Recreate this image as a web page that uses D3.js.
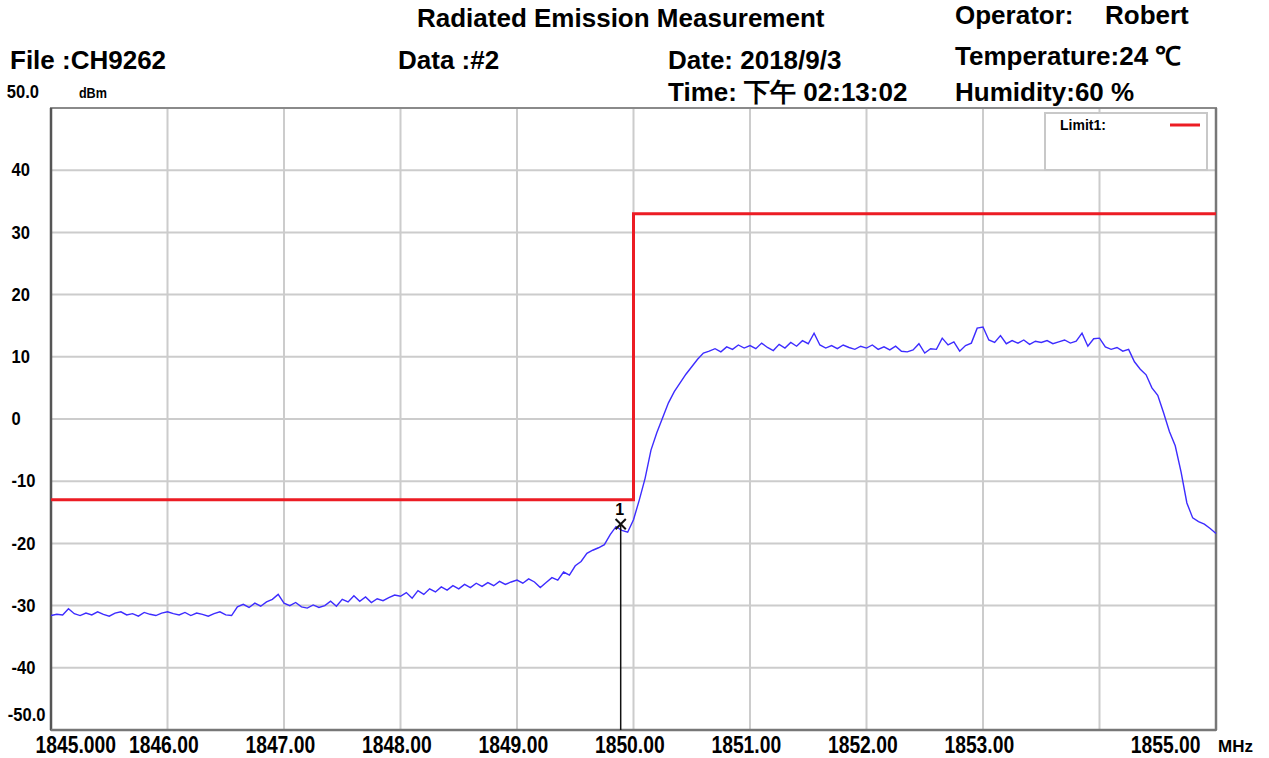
<!DOCTYPE html>
<html>
<head>
<meta charset="utf-8">
<script src="https://cdn.jsdelivr.net/npm/d3@7"></script>
<style>
  body { margin: 0; background: #fff; }
  text { font-family: "Liberation Sans", Arial, sans-serif; font-weight: bold; fill: #000; }
</style>
</head>
<body>
<svg id="chart"></svg>
<script>
// trace: 1845.00 .. 1855.00 MHz, 0.05 MHz per point
const freqStart = 1845, freqStep = 0.05;
const level = [
  -31.6, -31.4, -31.5, -30.5, -31.3, -31.6, -31.2, -31.5, -31.0, -31.4, -31.7, -31.2, -31.0, -31.5, -31.3, -31.7, -31.1, -31.4, -31.6, -31.2,
  -31.0, -31.3, -31.5, -31.1, -31.6, -31.2, -31.4, -31.7, -31.3, -31.0, -31.5, -31.6, -30.2, -29.8, -30.3, -29.6, -30.1, -29.4, -29.0, -28.2,
  -29.6, -30.0, -29.5, -30.2, -30.4, -29.9, -30.3, -30.0, -29.3, -30.1, -29.0, -29.4, -28.4, -29.3, -28.6, -29.5, -28.9, -29.2, -28.7, -28.3,
  -28.5, -27.9, -28.8, -27.6, -28.2, -27.3, -27.8, -27.0, -27.5, -26.8, -27.3, -26.6, -27.1, -26.4, -26.9, -26.3, -26.8, -26.1, -26.6, -26.2,
  -25.9, -26.4, -25.7, -26.2, -27.1, -26.3, -25.5, -25.9, -24.6, -25.1, -23.6, -22.9, -21.6, -21.1, -20.7, -20.2, -18.6, -17.3, -17.9, -18.2,
  -16.2, -13.0, -9.5, -5.0, -2.2, 0.2, 2.6, 4.4, 5.8, 7.2, 8.4, 9.6, 10.6, 10.9, 11.3, 10.8, 11.6, 11.2, 11.9, 11.4,
  11.8, 11.3, 12.2, 11.5, 11.0, 12.0, 11.4, 12.3, 11.7, 12.6, 12.1, 13.8, 11.9, 11.4, 11.8, 11.3, 11.9, 11.5, 11.2, 11.7,
  11.4, 11.9, 11.2, 11.6, 11.1, 11.7, 10.9, 10.8, 11.1, 12.1, 10.6, 11.3, 11.2, 13.0, 11.9, 12.4, 10.9, 11.8, 12.2, 14.6,
  14.8, 12.7, 12.3, 13.4, 12.1, 12.6, 12.2, 12.7, 12.0, 12.5, 12.3, 12.6, 12.1, 12.4, 12.7, 12.2, 12.5, 13.8, 11.7, 12.9,
  13.0, 11.6, 11.2, 11.5, 10.9, 11.2, 9.2, 8.0, 7.1, 5.0, 3.8, 1.0, -2.0, -4.3, -8.5, -13.5, -15.9, -16.5, -16.9, -17.6,
  -18.4
];

const limitFreq = [1845, 1850, 1850, 1855];
const limitLevel = [-13, -13, 33, 33];

const markerFreq = 1849.89, markerLevel = -16.9, markerName = '1';

const xTicks = [1845, 1846, 1847, 1848, 1849, 1850, 1851, 1852, 1853, 1854, 1855];
const xTickLabels = ['1845.000', '1846.00', '1847.00', '1848.00', '1849.00', '1850.00', '1851.00', '1852.00', '1853.00', '', '1855.00'];
const yTicks = [50, 40, 30, 20, 10, 0, -10, -20, -30, -40, -50];
const yTickLabels = ['50.0', '40', '30', '20', '10', '0', '-10', '-20', '-30', '-40', '-50.0'];

const title = 'Radiated Emission Measurement';
const infoLeft = ['File :CH9262', 'Data :#2'];
const infoMid = ['Date: 2018/9/3', 'Time: 下午 02:13:02'];
const operator = ['Operator:', 'Robert'];
const infoRight = ['Temperature:24 ℃', 'Humidity:60 %'];
const legendName = 'Limit1:';

const svg = d3.select('#chart')
  .attr('width', 1269)
  .attr('height', 758);

const margin = {top: 108, right: 53, bottom: 28, left: 51},
    width = 1269 - margin.left - margin.right,
    height = 758 - margin.top - margin.bottom;

const x = d3.scaleLinear().domain([1845, 1855]).range([0, width]);
const y = d3.scaleLinear().domain([-50, 50]).range([height, 0]);

const g = svg.append('g')
  .attr('transform', 'translate(' + margin.left + ',' + margin.top + ')');

// grid
g.selectAll('.vgrid')
  .data(xTicks.slice(1, -1))
  .enter().append('line')
  .attr('class', 'vgrid')
  .attr('x1', d => x(d)).attr('x2', d => x(d))
  .attr('y1', 0).attr('y2', height)
  .attr('stroke', '#cccccc').attr('stroke-width', 2);

g.selectAll('.hgrid')
  .data(yTicks.slice(1, -1))
  .enter().append('line')
  .attr('class', 'hgrid')
  .attr('x1', 0).attr('x2', width)
  .attr('y1', d => y(d)).attr('y2', d => y(d))
  .attr('stroke', '#cccccc').attr('stroke-width', 2);

// frame
g.append('rect')
  .attr('width', width).attr('height', height)
  .attr('fill', 'none').attr('stroke', '#8a8a8a').attr('stroke-width', 2);
g.append('line')
  .attr('x1', 0).attr('x2', 0).attr('y1', 0).attr('y2', height)
  .attr('stroke', '#555').attr('stroke-width', 2.5);
g.append('line')
  .attr('x1', 0).attr('x2', width).attr('y1', height).attr('y2', height)
  .attr('stroke', '#777').attr('stroke-width', 2.5);
g.append('line')
  .attr('x1', width).attr('x2', width).attr('y1', 0).attr('y2', height)
  .attr('stroke', '#777').attr('stroke-width', 2.5);

// y axis labels
const yAxis = g.append('g')
  .call(d3.axisLeft(y).tickValues(yTicks).tickFormat((d, i) => yTickLabels[i]).tickSize(0));
yAxis.select('.domain').remove();
yAxis.selectAll('text')
  .attr('text-anchor', 'start')
  .attr('x', -43)
  .attr('transform', 'scale(0.92,1)')
  .style('font-size', '18px')
  .style('font-family', null);
yAxis.selectAll('.tick').filter(d => d === 50).select('text').attr('y', -16).attr('x', -48);
yAxis.selectAll('.tick').filter(d => d === -50).select('text').attr('y', -15).attr('x', -47);

g.append('text')
  .attr('x', 31).attr('y', -10)
  .attr('transform', 'scale(0.9,1)')
  .style('font-size', '14px')
  .text('dBm');

// x axis labels
const xAxis = g.append('g')
  .attr('transform', 'translate(0,' + height + ')')
  .call(d3.axisBottom(x).tickValues(xTicks).tickFormat((d, i) => xTickLabels[i]).tickSize(0).tickPadding(7));
xAxis.select('.domain').remove();
xAxis.selectAll('text')
  .attr('dx', -5)
  .attr('transform', 'scale(0.84,1)')
  .style('font-size', '23px')
  .style('font-family', null);
xAxis.selectAll('.tick').filter(d => d === 1845).select('text').attr('text-anchor', 'start').attr('dx', -19);
xAxis.selectAll('.tick').filter(d => d === 1855).select('text').attr('text-anchor', 'end').attr('dx', -19);

g.append('text')
  .attr('x', width + 2).attr('y', height + 22)
  .style('font-size', '17px')
  .text('MHz');

// limit line
const limitData = limitFreq.map((f, i) => [f, limitLevel[i]]);
g.append('path')
  .datum(limitData)
  .attr('fill', 'none')
  .attr('stroke', '#ec1c24')
  .attr('stroke-width', 3)
  .attr('d', d3.line().x(d => x(d[0])).y(d => y(d[1])));

// trace
const trace = level.map((v, i) => [freqStart + i * freqStep, v]);
g.append('path')
  .datum(trace)
  .attr('fill', 'none')
  .attr('stroke', '#3d2cff')
  .attr('stroke-width', 1.4)
  .attr('d', d3.line().x(d => x(d[0])).y(d => y(d[1])));

// marker
g.append('line')
  .attr('x1', x(markerFreq)).attr('x2', x(markerFreq))
  .attr('y1', y(markerLevel)).attr('y2', height)
  .attr('stroke', '#111').attr('stroke-width', 1.5);
g.append('path')
  .attr('transform', 'translate(' + x(markerFreq) + ',' + y(markerLevel) + ')')
  .attr('d', d3.symbol(d3.symbolX, 70)())
  .attr('fill', 'none').attr('stroke', '#111').attr('stroke-width', 2);
g.append('text')
  .attr('x', x(markerFreq) - 1).attr('y', y(markerLevel) - 9)
  .attr('text-anchor', 'middle')
  .style('font-size', '16px')
  .text(markerName);

// legend
const legend = g.append('g').attr('transform', 'translate(' + (width - 171) + ',5)');
legend.append('rect')
  .attr('width', 162).attr('height', 57)
  .attr('fill', '#fff').attr('stroke', '#c8c8c8').attr('stroke-width', 2);
legend.append('text')
  .attr('x', 15).attr('y', 17)
  .style('font-size', '14px')
  .text(legendName);
legend.append('line')
  .attr('x1', 125).attr('x2', 155).attr('y1', 12).attr('y2', 12)
  .attr('stroke', '#ec1c24').attr('stroke-width', 3);

// header
const hdr = svg.append('g').style('font-size', '26px');
hdr.append('text').attr('x', 417).attr('y', 27).text(title);
hdr.selectAll('.info-left')
  .data(infoLeft)
  .enter().append('text')
  .attr('x', (d, i) => [10, 398][i]).attr('y', 69)
  .text(d => d);
hdr.selectAll('.info-mid')
  .data(infoMid)
  .enter().append('text')
  .attr('x', 668).attr('y', (d, i) => [69, 101][i])
  .text(d => d);
hdr.selectAll('.operator')
  .data(operator)
  .enter().append('text')
  .attr('x', (d, i) => [955, 1105][i]).attr('y', 24)
  .text(d => d);
hdr.selectAll('.info-right')
  .data(infoRight)
  .enter().append('text')
  .attr('x', 955).attr('y', (d, i) => [65, 101][i])
  .text(d => d);
</script>
</body>
</html>
